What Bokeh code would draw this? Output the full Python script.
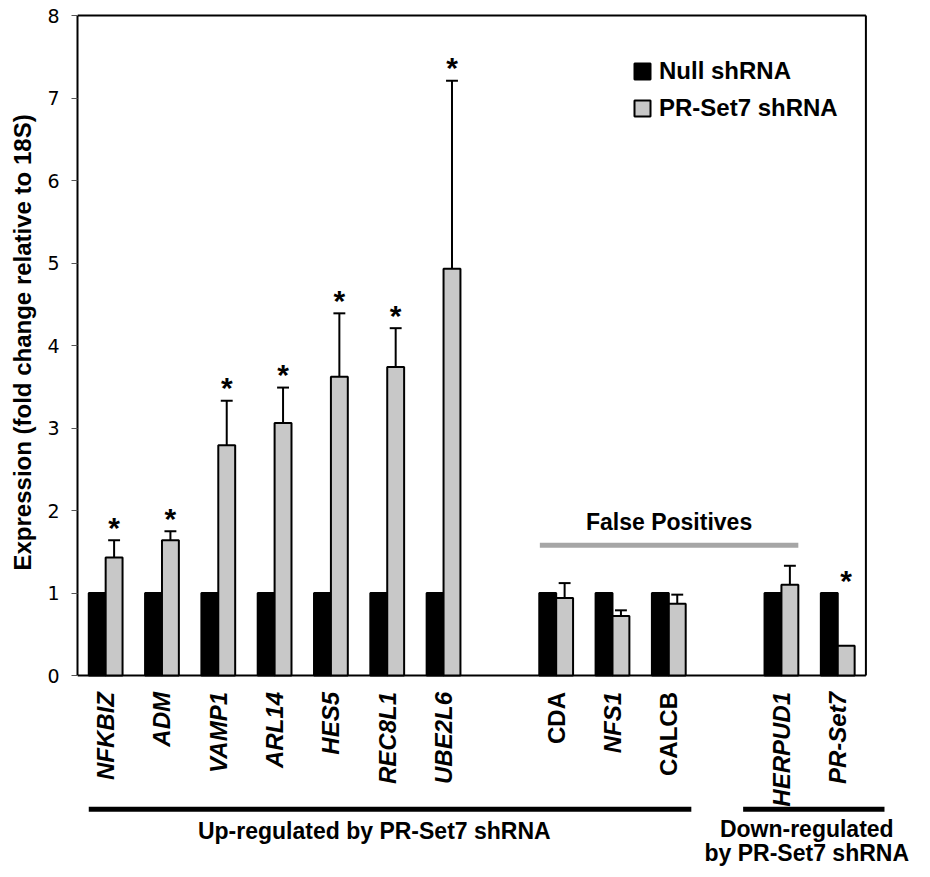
import math
from bokeh.plotting import figure
from bokeh.models import (Range1d, ColumnDataSource, Legend, LegendItem, FixedTicker, Title)
from bokeh.core.properties import value
from bokeh.embed import file_html
from bokeh.resources import INLINE

# ---------------- data ----------------
genes = ["NFKBIZ", "ADM", "VAMP1", "ARL14", "HES5", "REC8L1", "UBE2L6",
         "CDA", "NFS1", "CALCB", "HERPUD1", "PR-Set7"]
gene_groups = ["up"] * 7 + ["fp"] * 3 + ["down"] * 2
gene_italic = [True] * 7 + [False, True, False] + [True, True]
null_values = [1.0] * 12
prset7_values = [1.43, 1.64, 2.79, 3.06, 3.62, 3.74, 4.93, 0.94, 0.72, 0.87, 1.10, 0.36]
prset7_err = [0.21, 0.11, 0.54, 0.43, 0.77, 0.47, 2.28, 0.18, 0.07, 0.11, 0.23, 0.0]
significant = [True] * 7 + [False] * 4 + [True]
series_names = ["Null shRNA", "PR-Set7 shRNA"]
y_ticks = [0, 1, 2, 3, 4, 5, 6, 7, 8]
y_label = "Expression (fold change relative to 18S)"
fp_label = "False Positives"
up_label = "Up-regulated by PR-Set7 shRNA"
down_label = ["Down-regulated", "by PR-Set7 shRNA"]

# ---------------- layout helpers ----------------
xpos = []
slot = 0
for i, g in enumerate(gene_groups):
    if i > 0 and g != gene_groups[i - 1]:
        slot += 1
    xpos.append(slot)
    slot += 1

X0, X1 = -0.5, slot - 0.5          # plotting box in data units
Y0, Y1 = 0, 8
BW = 0.3
FONT = "Liberation Sans"
GRAY = "#c8c8c8"

W, H = 914, 869
LEFT, TOP = 70, 11
PX_X = 795 / (X1 - X0)
PX_Y = 660 / (Y1 - Y0)
x_end = X0 + (W - LEFT) / PX_X
y_end = Y1 + 4 / PX_Y
y_start = y_end - (H - TOP) / PX_Y

p = figure(width=W, height=H, output_backend="svg", toolbar_location=None,
           x_range=Range1d(X0, x_end), y_range=Range1d(y_start, y_end),
           min_border_left=LEFT, min_border_right=0, min_border_top=TOP,
           min_border_bottom=0)
p.xgrid.visible = False
p.ygrid.visible = False
p.xaxis.visible = False
p.outline_line_color = None
p.background_fill_color = "white"
p.border_fill_color = "white"

ya = p.yaxis[0]
ya.ticker = FixedTicker(ticks=y_ticks)
ya.bounds = (Y0, Y1)
ya.minor_tick_line_color = None
ya.major_tick_out = 6
ya.major_tick_in = 0
ya.major_tick_line_color = "#555555"
ya.major_tick_line_width = 1
ya.axis_line_color = "black"
ya.axis_line_width = 2
ya.major_label_text_font = "DejaVu Sans"
ya.major_label_text_font_size = "19px"
ya.major_label_text_color = "black"
ya.major_label_standoff = 12

# y-axis title, placed along the plotting box (not the whole frame)
p.add_layout(Title(text=y_label, align="left", offset=299, vertical_align="middle",
                   text_font=FONT, text_font_style="bold", text_font_size="24px",
                   text_color="black", standoff=15), "left")

# plot box (top, right, bottom)
p.segment(x0=[X0, X1, X0], y0=[Y1, Y0, Y0], x1=[X1, X1, X1], y1=[Y1, Y1, Y0],
          line_color="black", line_width=2)

src = ColumnDataSource(dict(
    xn=[x - BW / 2 for x in xpos],
    xp=[x + BW / 2 for x in xpos],
    null=null_values,
    pr=prset7_values,
))

# error bars (upper only)
eb_x, eb_lo, eb_hi = [], [], []
for x, v, e in zip(xpos, prset7_values, prset7_err):
    if e > 0:
        eb_x.append(x + BW / 2)
        eb_lo.append(v)
        eb_hi.append(v + e)
cap = 6 / PX_X
p.segment(x0=eb_x, y0=eb_lo, x1=eb_x, y1=eb_hi, line_color="black", line_width=2)
p.segment(x0=[x - cap for x in eb_x], y0=eb_hi, x1=[x + cap for x in eb_x], y1=eb_hi,
          line_color="black", line_width=2)

r_null = p.vbar(x="xn", top="null", width=BW, bottom=0, source=src,
                fill_color="black", line_color="black", line_width=2)
r_pr = p.vbar(x="xp", top="pr", width=BW, bottom=0, source=src,
              fill_color=GRAY, line_color="black", line_width=2)

# significance asterisks
sx, sy = [], []
for x, n, v, e, s in zip(xpos, null_values, prset7_values, prset7_err, significant):
    if s:
        sx.append(x + BW / 2)
        sy.append(max(v + e, n))
p.text(x=sx, y=sy, text=["*"] * len(sx), text_font=value(FONT),
       text_font_style="bold", text_font_size="30px", text_align="center",
       text_baseline="middle", y_offset=-13, text_color="black")

# legend
legend = Legend(items=[LegendItem(label=series_names[0], renderers=[r_null]),
                       LegendItem(label=series_names[1], renderers=[r_pr])],
                location=(555, 747), glyph_width=20, glyph_height=20,
                label_text_font=FONT, label_text_font_style="bold",
                label_text_color="black",
                label_text_font_size="24px", label_standoff=7, spacing=9,
                padding=0, margin=0, border_line_alpha=0, background_fill_alpha=0)
p.add_layout(legend)

# False positives bracket
fp_idx = [i for i, g in enumerate(gene_groups) if g == "fp"]
dn_idx = [i for i, g in enumerate(gene_groups) if g == "down"]
fp_x0 = xpos[fp_idx[0]] - 0.29
fp_x1 = xpos[dn_idx[0]] + 0.3
p.segment(x0=[fp_x0], y0=[1.58], x1=[fp_x1], y1=[1.58], line_color="#a6a6a6", line_width=5)
p.text(x=[(fp_x0 + fp_x1) / 2], y=[1.86], text=[fp_label], text_font=value(FONT),
       text_font_style="bold", text_font_size="23px", text_align="center",
       text_baseline="middle", text_color="black")

# gene labels below the axis
gsrc = ColumnDataSource(dict(x=xpos, y=[-0.2] * len(xpos), text=genes,
                             style=["bold italic" if it else "bold" for it in gene_italic]))
p.text(x="x", y="y", text="text", source=gsrc, angle=math.pi / 2, text_align="right",
       text_baseline="middle", text_font=value(FONT), text_font_style="style",
       text_font_size="24px", text_color="black")

# bottom brackets
up_x0 = xpos[0] - 0.3
up_x1 = xpos[fp_idx[-1]] + 0.4
dn_x0 = xpos[dn_idx[0]] - 0.68
dn_x1 = xpos[dn_idx[-1]] + 0.83
p.segment(x0=[up_x0, dn_x0], y0=[-1.62, -1.62], x1=[up_x1, dn_x1], y1=[-1.62, -1.62],
          line_color="black", line_width=5)

p.text(x=[4.77, 12.45, 12.45], y=[-1.88, -1.86, -2.15],
       text=[up_label, down_label[0], down_label[1]],
       text_align="center", text_baseline="middle", text_font=value(FONT),
       text_font_style="bold", text_font_size="23px", text_color="black")

open("out.html", "w").write(file_html(p, INLINE))
